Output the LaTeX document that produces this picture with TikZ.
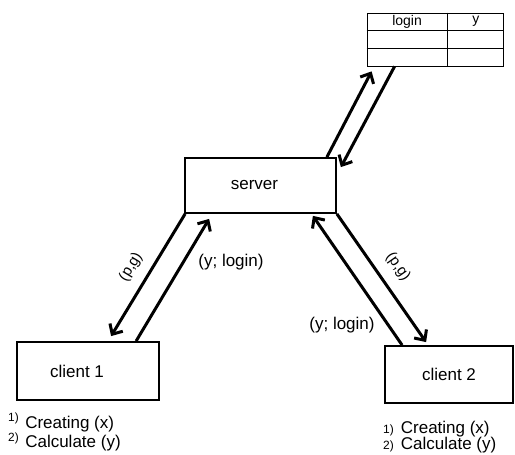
\documentclass[tikz,border=0pt]{standalone}
\usepackage{fontspec}
\setmainfont{Liberation Sans}
\usepackage{tikz}
\usetikzlibrary{arrows.meta,calc,positioning}

\begin{document}
\begin{tikzpicture}[x=1pt,y=-1pt,
  box/.style={draw,line width=1.8pt,font=\fontsize{17}{20}\selectfont},
  link/.style={line width=3pt,-{Straight Barb[length=8pt,width=15pt]}},
  lab/.style={font=\fontsize{17}{20}\selectfont,inner sep=1pt},
  steps/.style={anchor=north west,inner sep=0pt,align=left,font=\fontsize{17}{16}\selectfont}]
\useasboundingbox (0,0) rectangle (515,455);
% boxes
\node[box,minimum width=151pt,minimum height=55pt] (server) at (260.5,185.5) {server\hspace*{12pt}};
\node[box,minimum width=142pt,minimum height=58pt] (client1) at (88,371) {client 1\hspace*{22pt}};
\node[box,minimum width=128pt,minimum height=57pt] (client2) at (449,374.5) {client 2};
% login table
\node[draw,line width=.8pt,minimum width=136pt,minimum height=53pt,inner sep=0pt] (tbl) at (435,39.5) {};
\draw[line width=.8pt] ($(tbl.north west)+(81,0)$) -- ($(tbl.south west)+(81,0)$);
\foreach \r in {18,36}{\draw[line width=.8pt] ($(tbl.north west)+(0,\r)$) -- ($(tbl.north east)+(0,\r)$);}
\node[font=\fontsize{14}{16}\selectfont] (hlogin) at ($(tbl.north west)+(40.5,9)$) {login};
\node[font=\fontsize{14}{16}\selectfont] (hy) at ($(tbl.north east)+(-27.5,9)$) {y};
% links
\draw[link] ($(server.north east)+(-10,0)$) -- ($(tbl.south west)+(5,5)$);
\draw[link] ($(tbl.south west)+(28,0)$) -- ($(server.north east)+(4,10)$);
\draw[link] ($(server.south west)+(1,0)$) -- ($(client1.north west)+(95,-5)$);
\draw[link] ($(client1.north west)+(120,0)$) -- ($(server.south west)+(25,5)$);
\draw[link] ($(client2.north west)+(18,0)$) -- ($(server.south east)+(-24,2)$);
\draw[link] (server.south east) -- ($(client2.north west)+(42,-3)$);
% messages
\node[lab,rotate=59,font=\fontsize{15}{17}\selectfont] (pg1) at (131,267) {(p,g)};
\node[lab] (yl1) at (231,262) {(y; login)};
\node[lab,rotate=-55,font=\fontsize{15}{17}\selectfont] (pg2) at (398,267) {(p,g)};
\node[lab] (yl2) at (342,325) {(y; login)};
% steps under the clients
\node[steps] (steps1) at (8,413) {\textsuperscript{1)}\hspace{6pt}Creating (x)\\\textsuperscript{2)}\hspace{6pt}Calculate (y)};
\node[steps] (steps2) at (383,421) {{\fontsize{12}{12}\selectfont 1)}\hspace{7pt}Creating (x)\\{\fontsize{12}{12}\selectfont 2)}\hspace{7pt}Calculate (y)};
\end{tikzpicture}
\end{document}
